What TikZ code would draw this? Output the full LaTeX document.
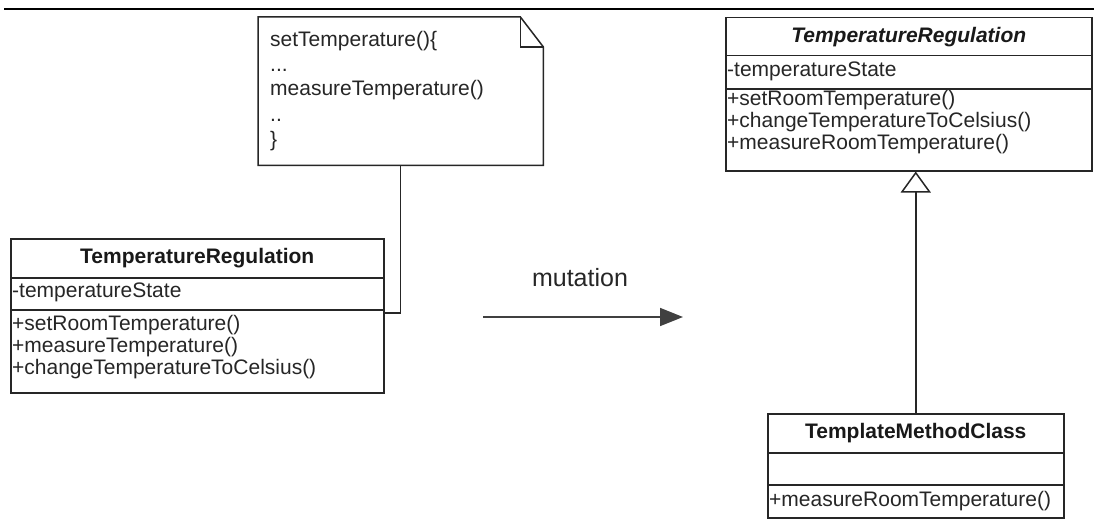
\documentclass[tikz,border=0pt]{standalone}
\usepackage{fontspec}
\setmainfont{Liberation Sans}
\usetikzlibrary{arrows.meta}
\tikzset{
  box/.style={draw=black!85,line width=1.5pt,fill=white,inner sep=0pt,anchor=north west},
  row/.style={anchor=west,inner sep=0pt,text height=15pt,text depth=4pt,text=black!85,font=\fontsize{21}{25}\selectfont},
  title/.style={inner sep=0pt,text=black!90,font=\fontsize{21}{25}\selectfont\bfseries},
}
\begin{document}
\begin{tikzpicture}[x=1pt,y=-1pt]
\useasboundingbox (0,0) rectangle (1094,519);
\draw[line width=2.2pt] (4,9) -- (1094,9);

\node[inner sep=0pt,anchor=north west,minimum width=285pt,minimum height=148pt] (note) at (258,17) {};
\draw[black!85,line width=1.5pt,fill=white] (note.north west) -- ([xshift=-23pt]note.north east) -- ([yshift=-30pt]note.north east) -- (note.south east) -- (note.south west) -- cycle;
\draw[black!85,line width=1.5pt] ([xshift=-23pt]note.north east) -- ([xshift=-23pt,yshift=-30pt]note.north east) -- ([yshift=-30pt]note.north east);
\node[row] (n1) at (270,41) {setTemperature()\{};
\node[row] (n2) at (270,66) {...};
\node[row] (n3) at (270,90) {measureTemperature()};
\node[row] (n4) at (270,116) {..};
\node[row] (n5) at (270,141) {\}};

\node[box,minimum width=373pt,minimum height=39pt] (lname) at (10,238) {};
\node[box,minimum width=373pt,minimum height=32pt] (lattr) at (10,277) {};
\node[box,minimum width=373pt,minimum height=83pt] (lops) at (10,309) {};
\node[title] (ltitle) at (lname) {TemperatureRegulation};
\node[row] (l1) at (12,292) {-temperatureState};
\node[row] (l2) at (12,325) {+setRoomTemperature()};
\node[row] (l3) at (12,347) {+measureTemperature()};
\node[row] (l4) at (12,369) {+changeTemperatureToCelsius()};

\draw[black!85,line width=1.5pt] (note.south) |- ([yshift=-4pt]lops.north east);

\coordinate (mfrom) at (483,317);
\coordinate (mto) at (683,317);
\draw[black!75,line width=1.8pt,-{Triangle[length=23pt,width=18pt]}] (mfrom) -- (mto);
\node[inner sep=0pt,text=black!85,font=\fontsize{25}{29}\selectfont] (mlabel) at (580,278) {mutation};

\node[box,minimum width=366pt,minimum height=38pt] (rname) at (725,17) {};
\node[box,minimum width=366pt,minimum height=33pt] (rattr) at (725,55) {};
\node[box,minimum width=366pt,minimum height=82pt] (rops) at (725,88) {};
\node[title,font=\fontsize{21}{25}\selectfont\bfseries\itshape] (rtitle) at (rname) {TemperatureRegulation};
\node[row] (r1) at (727,71) {-temperatureState};
\node[row] (r2) at (727,100) {+setRoomTemperature()};
\node[row] (r3) at (727,122) {+changeTemperatureToCelsius()};
\node[row] (r4) at (727,144) {+measureRoomTemperature()};

\node[box,minimum width=296pt,minimum height=39pt] (tname) at (767,413) {};
\node[box,minimum width=296pt,minimum height=32pt] (tattr) at (767,452) {};
\node[box,minimum width=296pt,minimum height=33pt] (tops) at (767,484) {};
\node[title] (ttitle) at (tname) {TemplateMethodClass};
\node[row] (t1) at (769,501) {+measureRoomTemperature()};

\draw[black!85,line width=1.5pt,-{Triangle[open,length=21pt,width=30pt,fill=white]}] (tname.north) -- (tname.north |- rops.south);
\end{tikzpicture}
\end{document}
